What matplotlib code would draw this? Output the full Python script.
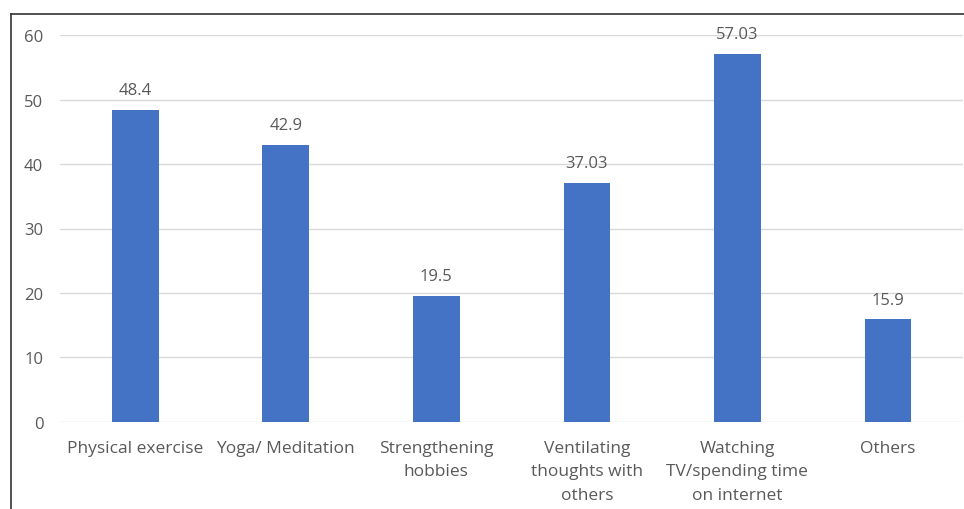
import matplotlib.pyplot as plt
from matplotlib.lines import Line2D

categories = ["Physical exercise", "Yoga/ Meditation", "Strengthening\nhobbies",
              "Ventilating\nthoughts with\nothers", "Watching\nTV/spending time\non internet",
              "Others"]
values = [48.4, 42.9, 19.5, 37.03, 57.03, 15.9]
value_labels = ["48.4", "42.9", "19.5", "37.03", "57.03", "15.9"]
yticks = [0, 10, 20, 30, 40, 50, 60]

BAR_COLOR = "#4472C4"
TEXT_COLOR = "#595959"
GRID_COLOR = "#D9D9D9"

plt.rcParams["font.family"] = ["Open Sans", "DejaVu Sans"]

fig = plt.figure(figsize=(9.64, 5.10), dpi=100)
ax = fig.add_axes([0.0622, 0.1706, 0.937, 0.7588])

x = range(len(categories))
bars = ax.bar(x, values, width=0.31, color=BAR_COLOR, zorder=3)

for b, lab in zip(bars, value_labels):
    ax.annotate(lab, (b.get_x() + b.get_width() / 2, b.get_height()),
                xytext=(0, 8.5), textcoords="offset points",
                ha="center", va="bottom", fontsize=12, color=TEXT_COLOR)

ax.set_xlim(-0.5, len(categories) - 0.5)
ax.set_ylim(0, 60)
ax.set_yticks(yticks)
ax.set_xticks(list(x))
ax.set_xticklabels(categories, fontsize=12.5, color=TEXT_COLOR, linespacing=1.62)
ax.tick_params(axis="y", labelsize=12, labelcolor=TEXT_COLOR, length=0, pad=12)
ax.tick_params(axis="x", length=0, pad=13)
ax.grid(axis="y", color=GRID_COLOR, linewidth=1, zorder=0)
for s in ax.spines.values():
    s.set_visible(False)

# outer frame, open on the right and bottom
fx = 10.5 / 964
fy = 1 - 14.5 / 510
fig.add_artist(Line2D([fx, fx], [0, fy], color="#333333", linewidth=1.2))
fig.add_artist(Line2D([fx, 1], [fy, fy], color="#333333", linewidth=1.2))

fig.savefig("out.png", dpi=100)
